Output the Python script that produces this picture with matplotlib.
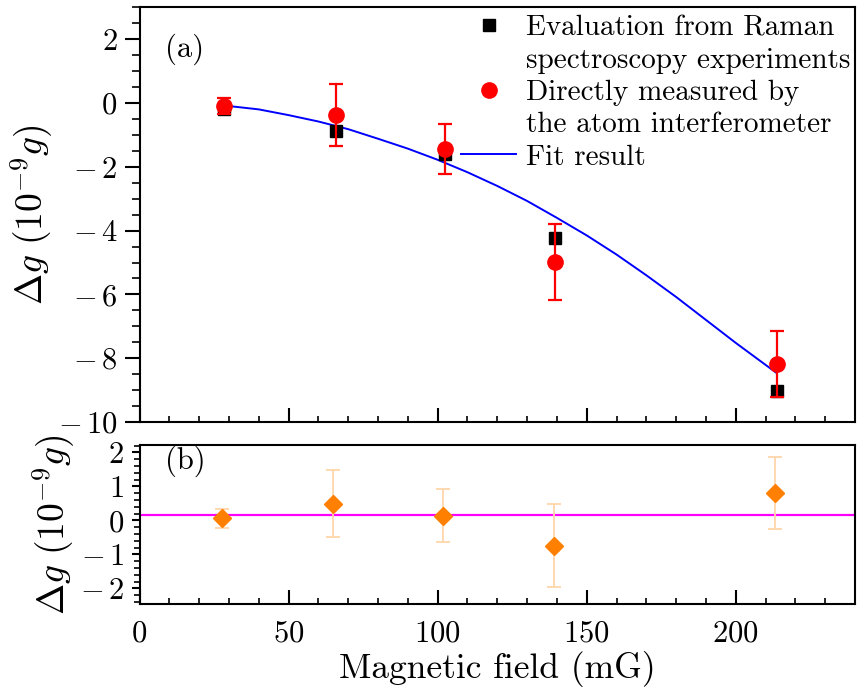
import matplotlib
matplotlib.use("Agg")
import matplotlib.pyplot as plt
from matplotlib.ticker import MultipleLocator, FuncFormatter
from matplotlib.lines import Line2D

plt.rcParams['font.family'] = 'serif'
plt.rcParams['font.serif'] = ['cmr10']
plt.rcParams['mathtext.fontset'] = 'cm'
plt.rcParams['axes.formatter.use_mathtext'] = True
plt.rcParams['axes.unicode_minus'] = True

# ---- data ----
field = [28.5, 66, 102.5, 139.5, 213.8]
raman_eval = [-0.19, -0.88, -1.61, -4.22, -9.02]
direct_meas = [-0.09, -0.37, -1.44, -4.97, -8.19]
direct_err = [0.25, 0.97, 0.78, 1.19, 1.03]

fit_x = [28.5, 40, 50, 60, 70, 80, 90, 100, 110, 120, 130, 140, 150, 160, 170, 180, 190, 200, 213.5]
fit_y = [-0.08, -0.20, -0.38, -0.58, -0.82, -1.12, -1.43, -1.78, -2.17, -2.60, -3.07,
         -3.60, -4.15, -4.75, -5.40, -6.08, -6.80, -7.52, -8.45]

diff_x = [27.6, 64.9, 101.8, 139.0, 213.2]
diff_y = [0.06, 0.49, 0.13, -0.75, 0.81]
diff_err = [0.27, 0.99, 0.78, 1.22, 1.05]
diff_mean = 0.16

legend_lines = ["Evaluation from Raman", "spectroscopy experiments",
                "Directly measured by", "the atom interferometer",
                "Fit result"]


def fmt(v, pos):
    if abs(v) < 1e-9:
        return r'$0$'
    if v < 0:
        return r'$-\,%d$' % round(-v)
    return r'$%d$' % round(v)


fig = plt.figure(figsize=(8.67, 6.92), dpi=100)
W, H = 867, 692
left, right = 139.5 / W, 855 / W
ax1 = fig.add_axes([left, 1 - 422 / H, right - left, (422 - 7.3) / H])
ax2 = fig.add_axes([left, 1 - 604.3 / H, right - left, (604.3 - 445) / H])

TICK = 22

# top panel
l_fit, = ax1.plot(fit_x, fit_y, color='#0000FF', lw=1.4, zorder=2)
l_sq, = ax1.plot(field, raman_eval, 's', color='black', ms=9, ls='none', zorder=3)
eb = ax1.errorbar(field, direct_meas, yerr=direct_err, fmt='o', color='#FF0000',
                  ms=11, elinewidth=1.6, capsize=5, capthick=1.6, zorder=4)
ax1.set_xlim(0, 240)
ax1.set_ylim(-10, 3)
ax1.yaxis.set_major_locator(MultipleLocator(2))
ax1.yaxis.set_minor_locator(MultipleLocator(0.5))
ax1.yaxis.set_major_formatter(FuncFormatter(fmt))
ax1.xaxis.set_major_locator(MultipleLocator(50))
ax1.xaxis.set_minor_locator(MultipleLocator(10))
ax1.tick_params(axis='x', which='both', direction='in', labelbottom=False)
ax1.tick_params(axis='x', which='major', length=10, width=1.5)
ax1.tick_params(axis='x', which='minor', length=4.5, width=1.2)
ax1.tick_params(axis='y', which='major', direction='out', length=11, width=1.5,
                labelsize=TICK, pad=5)
ax1.tick_params(axis='y', which='minor', direction='out', length=6, width=1.2)
ax1.set_ylabel(r'$\Delta g\ (10^{-9}g)$', fontsize=27, labelpad=2)
ax1.text(0.035, 0.9, '(a)', transform=ax1.transAxes, fontsize=22, va='center')

blank = Line2D([], [], ls='none', marker='none')
handles = [l_sq, blank, eb.lines[0], blank, l_fit]
ax1.legend(handles, legend_lines, loc='upper left',
           bbox_to_anchor=(0.445, 0.988), frameon=False, fontsize=21,
           handlelength=1.9, handletextpad=0.35, borderpad=0.1, borderaxespad=0,
           labelspacing=0.2)

# bottom panel
ax2.axhline(diff_mean, color='#FF00FF', lw=1.6, zorder=1)
ax2.errorbar(diff_x, diff_y, yerr=diff_err, fmt='none', ecolor='#FFD5AA',
             elinewidth=1.3, capsize=5, capthick=1.3, zorder=2)
ax2.plot(diff_x, diff_y, 'D', color='#FF8000', ms=9.5, ls='none', zorder=3)
ax2.set_xlim(0, 240)
ax2.set_ylim(-2.47, 2.22)
ax2.yaxis.set_major_locator(MultipleLocator(1))
ax2.yaxis.set_minor_locator(MultipleLocator(0.2))
ax2.yaxis.set_major_formatter(FuncFormatter(fmt))
ax2.xaxis.set_major_locator(MultipleLocator(50))
ax2.xaxis.set_minor_locator(MultipleLocator(10))
ax2.tick_params(axis='x', which='both', direction='in', labelsize=TICK, pad=11)
ax2.tick_params(axis='x', which='major', length=10, width=1.5)
ax2.tick_params(axis='x', which='minor', length=4.5, width=1.2)
ax2.tick_params(axis='y', which='major', direction='out', length=6, width=1.5,
                labelsize=TICK, pad=5)
ax2.tick_params(axis='y', which='minor', direction='out', length=4, width=1.2)
ax2.set_ylabel(r'$\Delta g\ (10^{-9}g)$', fontsize=27, labelpad=2)
ax2.set_xlabel('Magnetic field (mG)', fontsize=25.5, labelpad=3)
ax2.text(0.035, 0.9, '(b)', transform=ax2.transAxes, fontsize=22, va='center')

for ax in (ax1, ax2):
    for s in ax.spines.values():
        s.set_linewidth(1.5)

fig.savefig('out.png', dpi=100)
